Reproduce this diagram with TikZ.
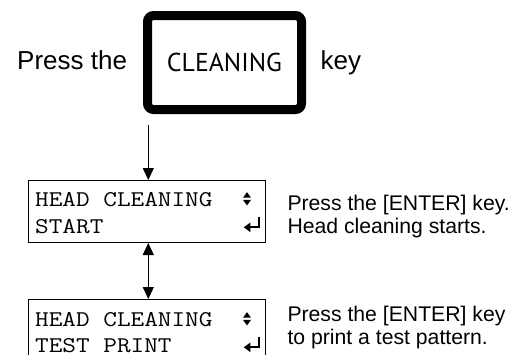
\documentclass[tikz,border=0pt]{standalone}
\usepackage{fontspec}
\usepackage{graphicx}
\setmainfont{Liberation Sans}
\newfontfamily\keyfont{PT Sans}
\usetikzlibrary{arrows.meta}
\newcommand{\lcdline}[1]{\scalebox{1.177}[1]{#1}}
\tikzset{
  txt/.style={inner sep=0pt, anchor=base west, font=\fontsize{21.2}{23}\selectfont},
  big/.style={inner sep=0pt, anchor=base west, font=\fontsize{26}{28}\selectfont},
  lcdtxt/.style={inner sep=0pt, anchor=base west, font=\ttfamily\fontsize{22.5}{27}\selectfont},
  lcd/.style={draw, line width=1pt, minimum width=237pt, anchor=north west, inner sep=0pt},
  keybox/.style={draw, line width=9pt, rounded corners=6pt, minimum width=154pt, minimum height=94pt, inner sep=0pt, font=\keyfont\fontsize{25.8}{27}\selectfont},
  conn/.style={line width=1pt, -{Triangle[length=12pt,width=11pt]}},
  conn2/.style={line width=1pt, {Triangle[length=12pt,width=11pt]}-{Triangle[length=12pt,width=11pt]}},
  updown/.pic={
    \fill (-4,-1.1) -- (4,-1.1) -- (0,-6.6) -- cycle;
    \fill (-4,1.1) -- (4,1.1) -- (0,6.6) -- cycle;
  },
  enterkey/.pic={
    \draw[line width=2pt, miter limit=10] (0,-10.5) -- (0,0) -- (-9.5,0);
    \fill (-9,-4.8) -- (-9,4.8) -- (-15.5,0) -- cycle;
  }
}
\begin{document}
\begin{tikzpicture}[x=1pt,y=-1pt]
\useasboundingbox (0,0) rectangle (518,354);
\begin{scope}
\clip (0,0) rectangle (518,354);
\fill[white] (0,0) rectangle (518,354);

\node[big] (press) at (17,69.3) {Press the};
\node[keybox] (key) at (224.5,62.5) {CLEANING};
\node[big] (keyword) at (320.5,69.3) {key};

\node[lcd, minimum height=62pt] (lcd1) at (28,180) {};
\node[lcdtxt] (l1a) at (35,206.7) {\lcdline{HEAD CLEANING}};
\node[lcdtxt] (l1b) at (35,233.7) {\lcdline{START}};
\pic at (247,198.8) {updown};
\pic at (259.3,227.3) {enterkey};

\node[lcd, minimum height=80pt] (lcd2) at (28,299) {};
\node[lcdtxt] (l2a) at (35,326.7) {\lcdline{HEAD CLEANING}};
\node[lcdtxt] (l2b) at (35,352.5) {\lcdline{TEST PRINT}};
\pic at (247,318.8) {updown};
\pic at (259.3,347.3) {enterkey};

\coordinate (a1) at (148.3,125);
\draw[conn] (a1) -- (a1 |- lcd1.north);
\draw[conn2] (a1 |- lcd1.south) -- (a1 |- lcd2.north);

\node[txt] (r1a) at (287.3,210) {Press the [ENTER] key.};
\node[txt] (r1b) at (287.3,233) {Head cleaning starts.};
\node[txt] (r2a) at (287.3,321) {Press the [ENTER] key};
\node[txt] (r2b) at (287.3,344) {to print a test pattern.};
\end{scope}
\end{tikzpicture}
\end{document}
